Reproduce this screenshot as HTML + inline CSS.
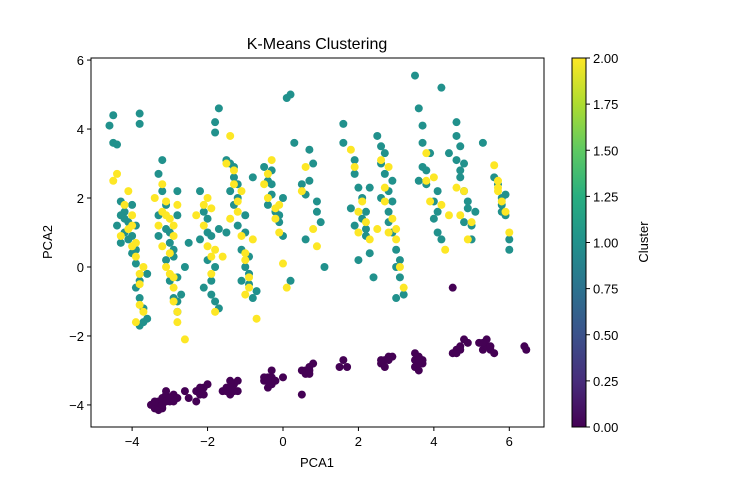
<!DOCTYPE html>
<html><head><meta charset="utf-8"><style>
body{margin:0;background:#fff;}
svg text{font-family:"Liberation Sans","DejaVu Sans",sans-serif;fill:#000;}
</style></head><body>
<svg id="chart" width="730" height="480" viewBox="0 0 730 480">
<defs><linearGradient id="vir" x1="0" y1="1" x2="0" y2="0">
<stop offset="0" stop-color="#440154"/><stop offset="0.125" stop-color="#472d7b"/><stop offset="0.25" stop-color="#3b528b"/><stop offset="0.375" stop-color="#2c728e"/><stop offset="0.5" stop-color="#21918c"/><stop offset="0.625" stop-color="#28ae80"/><stop offset="0.75" stop-color="#5ec962"/><stop offset="0.875" stop-color="#addc30"/><stop offset="1" stop-color="#fde725"/></linearGradient></defs>
<text x="317" y="49" font-size="16" text-anchor="middle">K-Means Clustering</text>
<g id="points"></g>
<rect x="91" y="58" width="453" height="369" fill="none" stroke="#000" stroke-width="1"/>
<g id="xticks"></g>
<g id="yticks"></g>
<text x="317" y="467" font-size="13" text-anchor="middle">PCA1</text>
<text x="0" y="0" font-size="13" text-anchor="middle" transform="translate(52,242) rotate(-90)">PCA2</text>
<rect x="572" y="58" width="14" height="369" fill="url(#vir)" stroke="#000" stroke-width="1"/>
<g id="cbticks"></g>
<text x="0" y="0" font-size="13" text-anchor="middle" transform="translate(648,242) rotate(-90)">Cluster</text>
</svg>
<script>
const xTicks=[-4,-2,0,2,4,6];
const yTicks=[-4,-2,0,2,4,6];
const cbTicks=[0,0.25,0.5,0.75,1,1.25,1.5,1.75,2];
const cluster0=[[-3.5,-4.0],[-3.4,-4.1],[-3.3,-4.0],[-3.3,-3.9],[-3.2,-3.8],[-3.2,-4.1],[-3.1,-3.7],[-3.0,-3.9],[-3.1,-3.6],[-2.9,-3.7],[-2.8,-3.8],[-2.6,-3.6],[-2.5,-3.8],[-2.3,-3.6],[-2.2,-3.7],[-2.1,-3.5],[-2.3,-3.9],[-2.0,-3.4],[-1.6,-3.6],[-1.5,-3.5],[-1.4,-3.7],[-1.3,-3.4],[-1.2,-3.3],[-1.4,-3.3],[-1.2,-3.6],[-0.5,-3.3],[-0.4,-3.2],[-0.4,-3.5],[-0.3,-3.0],[-0.2,-3.3],[-0.3,-3.4],[0.0,-3.2],[0.5,-3.0],[0.6,-3.1],[0.7,-2.9],[0.7,-3.1],[0.8,-2.8],[0.5,-3.7],[1.5,-2.9],[1.6,-2.7],[1.7,-2.9],[2.6,-2.8],[2.7,-2.7],[2.8,-2.6],[2.9,-2.6],[2.7,-2.9],[3.5,-2.7],[3.5,-2.9],[3.6,-2.6],[3.7,-2.8],[3.6,-3.0],[3.5,-2.5],[4.5,-2.5],[4.6,-2.4],[4.7,-2.3],[4.8,-2.1],[4.9,-2.2],[4.5,-0.6],[5.2,-2.2],[5.3,-2.4],[5.4,-2.3],[5.5,-2.4],[5.6,-2.5],[5.4,-2.1],[6.4,-2.3],[6.45,-2.4],
[-3.4,-3.9],[-3.3,-4.15],[-3.2,-4.0],[-3.1,-3.9],[-3.0,-3.8],[-2.9,-3.9],[-2.1,-3.7],[-2.2,-3.5],[-1.5,-3.6],[-1.3,-3.6],[-1.4,-3.5],[-0.5,-3.2],[-0.3,-3.2],[-0.4,-3.3],[0.6,-3.0],[0.7,-3.0],[2.8,-2.7],[2.6,-2.7],[3.6,-2.8],[3.7,-2.7],[3.6,-2.7],[4.6,-2.5],[4.7,-2.4],[5.5,-2.3],[5.3,-2.2]];
const cluster1=[[-4.6,4.1],[-4.5,4.4],[-4.5,3.6],[-4.4,3.55],[-3.8,4.45],[-3.8,4.15],[-4.3,1.9],[-4.2,1.6],[-4.1,1.3],[-4.2,1.0],[-4.3,0.7],[-4.0,0.9],[-3.9,0.5],[-4.0,1.8],[-3.9,1.2],[-3.9,0.1],[-3.8,-0.4],[-3.8,-0.9],[-3.7,-1.2],[-3.8,-1.7],[-3.6,-1.5],[-4.2,1.4],[-4.4,1.2],[-3.6,-0.2],
[-3.2,3.1],[-3.3,2.7],[-3.2,2.2],[-3.3,1.5],[-3.1,1.1],[-3.0,0.7],[-3.1,0.2],[-3.0,-0.4],[-2.9,-0.9],[-2.8,-1.3],[-2.8,2.2],[-2.8,1.5],[-2.9,0.5],[-2.7,-0.8],[-3.3,0.9],[-2.6,0.0],[-2.5,0.7],
[-2.2,2.2],[-2.1,1.6],[-2.0,1.0],[-2.0,0.2],[-1.9,-0.4],[-1.8,-1.0],[-1.7,-1.2],[-2.2,0.8],[-1.8,0.0],[-2.1,-0.6],[-1.8,4.2],[-1.7,4.6],[-1.8,3.9],[-1.7,1.1],
[-1.5,3.1],[-1.4,3.0],[-1.3,2.6],[-1.4,2.2],[-1.3,1.8],[-1.2,1.2],[-1.1,0.5],[-1.0,0.0],[-0.9,-0.5],[-0.8,-0.9],[-1.2,2.0],[-1.0,1.5],[-0.8,2.6],[-1.5,1.0],[-1.1,-0.4],[-0.9,0.3],
[-0.5,2.9],[-0.4,2.5],[-0.3,2.1],[-0.2,1.6],[-0.1,1.3],[0.0,0.9],[-0.4,1.8],[0.2,-0.4],[0.1,4.9],[0.2,5.0],[0.3,3.6],[-0.3,2.8],[0.0,2.0],
[0.7,3.4],[0.8,3.0],[0.7,2.5],[0.9,1.9],[0.5,2.4],[0.6,0.8],[0.9,1.6],[1.0,1.3],[1.1,0.0],[0.6,2.1],
[1.6,4.15],[1.6,3.6],[1.9,3.1],[1.9,2.7],[2.0,2.3],[1.8,1.7],[2.1,1.4],[2.2,0.9],[2.0,0.2],[2.3,0.4],[2.4,-0.3],[2.3,2.3],[2.2,1.6],[1.9,1.2],
[2.5,3.8],[2.6,3.5],[2.6,3.0],[2.7,2.7],[2.8,2.2],[2.8,1.6],[2.9,1.0],[3.0,0.5],[3.1,-0.3],[3.2,-0.8],[3.0,-0.9],[2.7,3.3],[2.9,1.9],[2.6,2.0],[3.1,0.2],
[3.5,5.55],[3.6,4.6],[3.7,4.1],[3.7,3.6],[3.9,3.3],[3.7,2.9],[3.8,2.4],[4.0,1.9],[4.0,1.4],[4.1,1.0],[4.2,0.8],[4.4,3.3],[4.2,5.2],[4.1,2.2],[3.6,2.5],
[4.6,4.2],[4.6,3.8],[4.7,3.5],[4.6,3.1],[4.7,2.6],[4.8,3.0],[4.8,2.2],[4.9,1.9],[4.8,1.3],[5.0,1.2],[5.1,1.6],[5.0,0.8],[5.3,3.6],
[5.7,2.4],[5.8,2.0],[5.8,1.8],[5.9,1.5],[6.0,0.8],[6.0,0.5],[5.6,2.6],[5.9,2.1],
[-4.3,1.5],[-4.1,0.8],[-4.0,0.4],[-3.9,-0.6],[-3.7,-1.6],[-3.1,1.8],[-3.0,1.0],[-2.9,0.3],[-2.8,-0.3],[-2.8,-1.0],[-2.0,1.4],[-1.9,0.9],[-1.9,-0.8],[-1.3,2.9],[-1.2,2.4],[-1.0,1.0],[-0.9,-0.2],[-0.7,-0.7],[-0.3,2.4],[-0.1,1.5],[2.1,2.0],[2.2,1.1],[2.8,1.3],[3.0,0.0],[2.9,2.5],[3.8,2.8],[4.1,1.6],[4.7,2.8],[4.9,1.7],[5.8,1.6]];
const cluster2=[[-4.5,2.5],[-4.4,2.7],[-4.1,2.2],[-4.1,1.1],[-4.0,0.6],[-3.9,0.3],[-3.8,-0.5],[-3.8,-1.1],[-3.9,-1.6],[-3.7,-1.3],[-4.3,0.9],[-4.0,1.5],[-3.7,0.0],
[-3.4,2.0],[-3.2,2.4],[-3.1,1.9],[-3.2,1.6],[-3.0,1.4],[-2.9,1.2],[-3.1,0.0],[-3.0,-0.2],[-2.9,-1.0],[-2.8,-1.6],[-2.9,-0.6],[-2.6,-2.1],[-3.3,1.2],[-2.9,0.9],[-2.8,1.8],[-3.2,0.6],
[-2.3,1.5],[-2.0,2.0],[-1.9,1.7],[-2.0,0.6],[-1.9,-0.2],[-1.8,-1.3],[-2.1,1.2],[-1.8,0.5],[-1.6,0.3],
[-1.5,3.0],[-1.4,3.8],[-1.3,2.4],[-1.2,1.6],[-1.1,0.9],[-1.0,0.4],[-0.9,-0.3],[-1.0,-0.8],[-0.7,-1.5],[-1.4,1.4],[-1.1,2.2],[-0.8,0.8],
[-0.5,2.4],[-0.3,3.1],[-0.4,2.0],[-0.2,1.4],[-0.1,1.0],[0.0,0.1],[0.1,-0.6],[-0.1,1.8],
[0.6,2.9],[0.5,2.2],[0.9,0.6],[0.8,1.1],
[1.8,3.4],[1.9,2.9],[2.1,1.9],[2.2,1.3],[2.3,0.8],[2.5,1.1],[2.0,1.0],
[2.6,3.1],[2.8,2.9],[2.7,2.3],[2.9,1.4],[3.0,0.8],[3.1,0.0],[3.2,-0.6],[2.7,1.9],
[3.8,3.3],[3.8,2.5],[4.0,2.6],[4.2,1.8],[4.3,0.5],[4.4,1.5],[3.9,1.9],
[4.6,2.3],[4.8,2.2],[5.0,1.3],[4.9,0.8],[4.7,1.5],
[5.6,2.95],[5.7,2.3],[5.7,2.2],[5.9,1.6],[6.0,1.0],[5.8,1.9],
[-4.2,1.8],[-4.0,1.2],[-3.9,0.7],[-3.8,-0.2],[-3.1,1.5],[-3.0,0.4],[-2.9,-0.3],[-2.8,-1.3],[-2.1,1.8],[-1.9,0.3],[-1.3,2.8],[-1.2,1.9],[-1.0,0.2],[-0.9,-0.6],[-0.4,2.7],[-0.2,1.7],[2.0,1.6],[2.8,1.0],[3.0,1.1],[5.7,2.5]];
const clusterColors=["#440154","#21918c","#fde725"];

const NS="http://www.w3.org/2000/svg";
const X0=91,X1=544,Y0=58,Y1=427,xmin=-5.09,xmax=6.92,ymin=-4.64,ymax=6.06;
const sx=v=>X0+(v-xmin)/(xmax-xmin)*(X1-X0);
const sy=v=>Y1-(v-ymin)/(ymax-ymin)*(Y1-Y0);
const sc=v=>427-v/2*369;
function mk(tag,attrs,parent){const e=document.createElementNS(NS,tag);for(const k in attrs)e.setAttribute(k,attrs[k]);parent.appendChild(e);return e;}
const pg=document.getElementById('points');
[cluster0,cluster1,cluster2].forEach((arr,ci)=>{
  arr.forEach(p=>{
    const c=mk('circle',{cx:sx(p[0]),cy:sy(p[1]),r:4,fill:clusterColors[ci]},pg);
    
    
  });
});
const xg=document.getElementById('xticks');
xTicks.forEach(t=>{
  const l=mk('line',{x1:sx(t),x2:sx(t),y1:427,y2:431,stroke:'#000'},xg);
  
  
  const tx=mk('text',{x:sx(t),y:446,'font-size':13,'text-anchor':'middle'},xg);
  tx.textContent=(t<0?'\u2212'+(-t):t);
  
  
});
const yg=document.getElementById('yticks');
yTicks.forEach(t=>{
  const l=mk('line',{x1:87,x2:91,y1:sy(t),y2:sy(t),stroke:'#000'},yg);
  
  
  const tx=mk('text',{x:84,y:sy(t)+5,'font-size':13,'text-anchor':'end'},yg);
  tx.textContent=(t<0?'\u2212'+(-t):t);
  
  
});
const cg=document.getElementById('cbticks');
cbTicks.forEach(t=>{
  const l=mk('line',{x1:586,x2:590,y1:sc(t),y2:sc(t),stroke:'#000'},cg);
  
  
  const tx=mk('text',{x:593,y:sc(t)+5,'font-size':13},cg);
  tx.textContent=t.toFixed(2);
  
  
});
</script>
</body></html>
